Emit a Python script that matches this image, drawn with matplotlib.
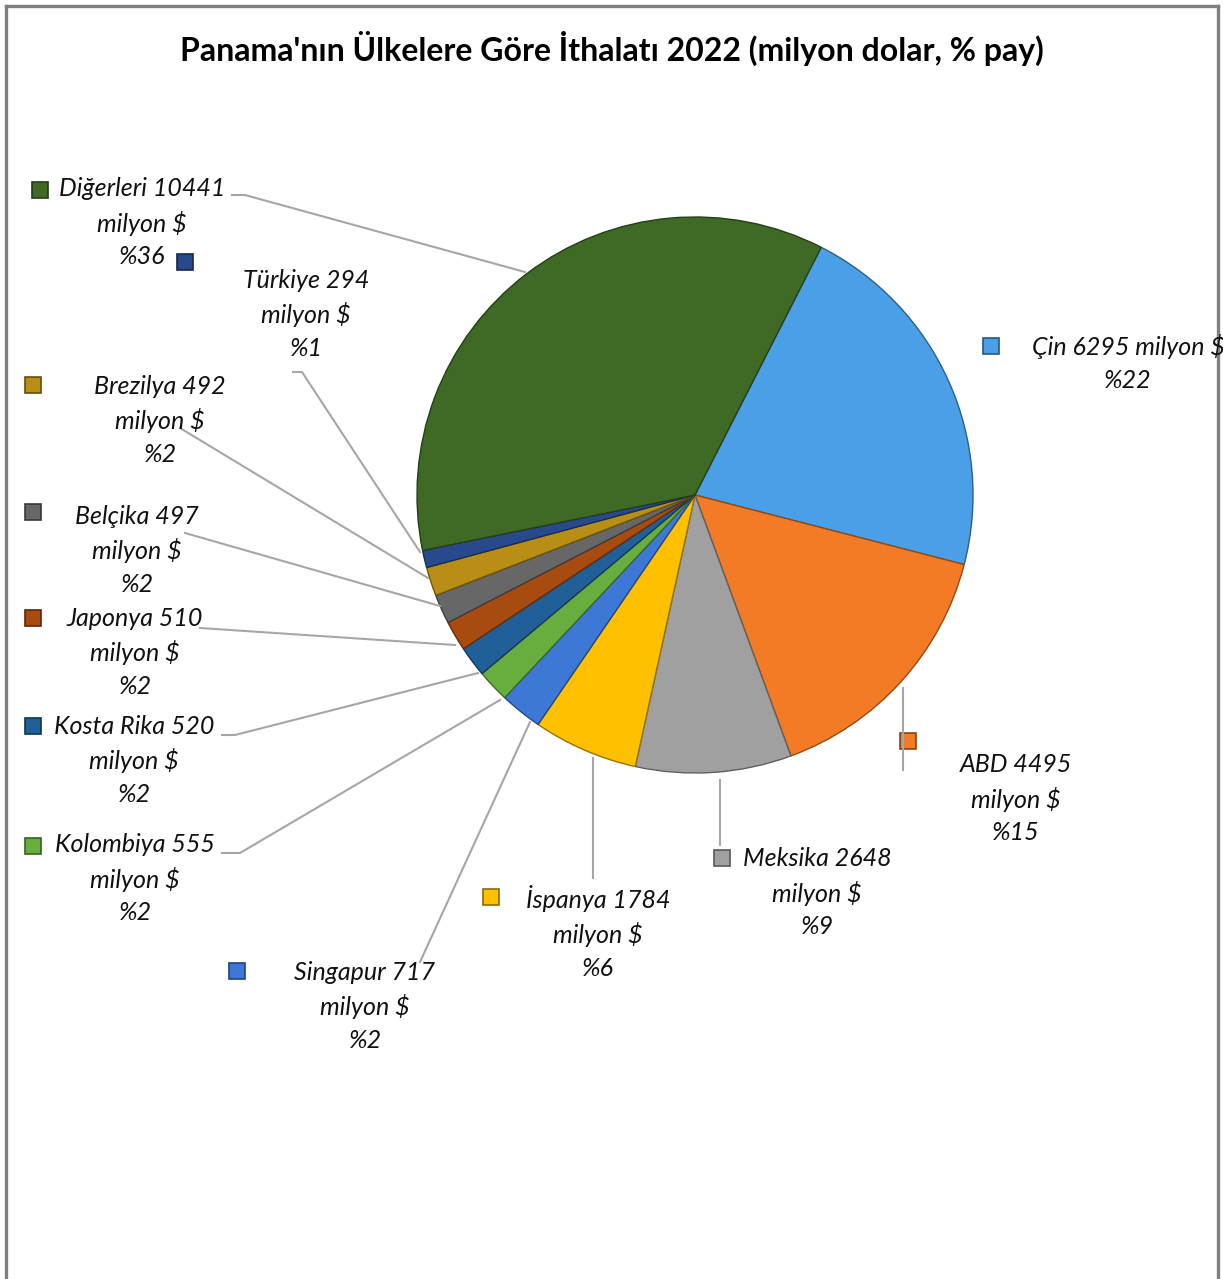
import matplotlib
matplotlib.use("Agg")
import matplotlib.pyplot as plt
from matplotlib.patches import Rectangle
from matplotlib.colors import to_rgb

W, H = 1223, 1279

# Datos: importaciones de Panamá 2022 (millones de dólares)
ulkeler = ['Çin', 'ABD', 'Meksika', 'İspanya', 'Singapur', 'Kolombiya',
           'Kosta Rika', 'Japonya', 'Belçika', 'Brezilya', 'Türkiye', 'Diğerleri']
degerler = [6295, 4495, 2648, 1784, 717, 555, 520, 510, 497, 492, 294, 10441]
renkler = ['#4A9FE6', '#F47B26', '#A0A0A0', '#FFC000', '#3D78D6', '#67AE3E',
           '#215F98', '#A84B10', '#676767', '#B88E14', '#284A8C', '#3E6A25']

toplam = sum(degerler)
yuzdeler = [round(v * 100 / toplam) for v in degerler]


def Y(y):
    return H - y


fig = plt.figure(figsize=(W / 100, H / 100), dpi=100)
ax = fig.add_axes([0, 0, 1, 1])

wedges, _ = ax.pie(degerler, colors=renkler, startangle=63, counterclock=False,
                   center=(695, Y(495)), radius=278,
                   wedgeprops=dict(linewidth=1.0))
for w, c in zip(wedges, renkler):
    r, g, b = to_rgb(c)
    w.set_edgecolor((r * 0.6, g * 0.6, b * 0.6))

ax.set_xlim(0, W)
ax.set_ylim(0, H)
ax.set_aspect('auto')
ax.axis('off')

# Marco gris
for xs, ys in [([6, 6], [0, H - 6]), ([6, W - 5], [H - 6, H - 6]), ([W - 5, W - 5], [0, H - 6])]:
    ax.plot(xs, ys, color='#808080', lw=2.4, solid_capstyle='projecting')

ax.text(612, Y(48), "Panama'nın Ülkelere Göre İthalatı 2022 (milyon dolar, % pay)",
        ha='center', va='center', fontsize=23, fontweight='bold', family='Lato')

# posiciones: centro de texto, marcador, línea guía
etiket_yer = {
    'Çin': (1128, 363, 991, 346),
    'ABD': (1016, 799, 908, 741),
    'Meksika': (817, 893, 722, 858),
    'İspanya': (598, 932, 491, 897),
    'Singapur': (365, 1006, 237, 971),
    'Kolombiya': (135, 879, 33, 846),
    'Kosta Rika': (134, 760, 33, 726),
    'Japonya': (135, 652, 33, 618),
    'Belçika': (137, 550, 33, 512),
    'Brezilya': (160, 420, 33, 385),
    'Türkiye': (306, 314, 185, 262),
    'Diğerleri': (142, 223, 40, 190),
}
kilavuz = {
    'ABD': [(903, 770), (903, 688)],
    'Meksika': [(720, 845), (720, 780)],
    'İspanya': [(593, 878), (593, 758)],
    'Singapur': [(420, 962), (530, 722)],
    'Kolombiya': [(222, 853), (240, 853), (500, 700)],
    'Kosta Rika': [(222, 735), (235, 735), (478, 673)],
    'Japonya': [(200, 628), (455, 645)],
    'Belçika': [(185, 533), (440, 606)],
    'Brezilya': [(180, 428), (428, 578)],
    'Türkiye': [(293, 372), (302, 372), (420, 552)],
    'Diğerleri': [(232, 195), (245, 195), (525, 272)],
}

klip = Rectangle((8, 0), W - 15, H - 8, transform=ax.transData, visible=False)
ax.add_patch(klip)

for ad, v, p, c in zip(ulkeler, degerler, yuzdeler, renkler):
    tx, ty, mx, my = etiket_yer[ad]
    if ad == 'Çin':
        metin = f"{ad} {v} milyon $\n%{p}"
    else:
        metin = f"{ad} {v}\nmilyon $\n%{p}"
    t = ax.text(tx, Y(ty), metin, ha='center', va='center', multialignment='center',
                fontsize=18, style='italic', family='Lato', linespacing=1.5, color='#111111')
    t.set_clip_path(klip)
    r, g, b = to_rgb(c)
    ax.add_patch(Rectangle((mx - 8, Y(my) - 8), 16, 16, facecolor=c,
                           edgecolor=(r * 0.55, g * 0.55, b * 0.55), lw=1.2))
    if ad in kilavuz:
        pts = kilavuz[ad]
        ax.plot([q[0] for q in pts], [Y(q[1]) for q in pts], color='#A6A6A6', lw=1.5)

fig.savefig('out.png', dpi=100)
